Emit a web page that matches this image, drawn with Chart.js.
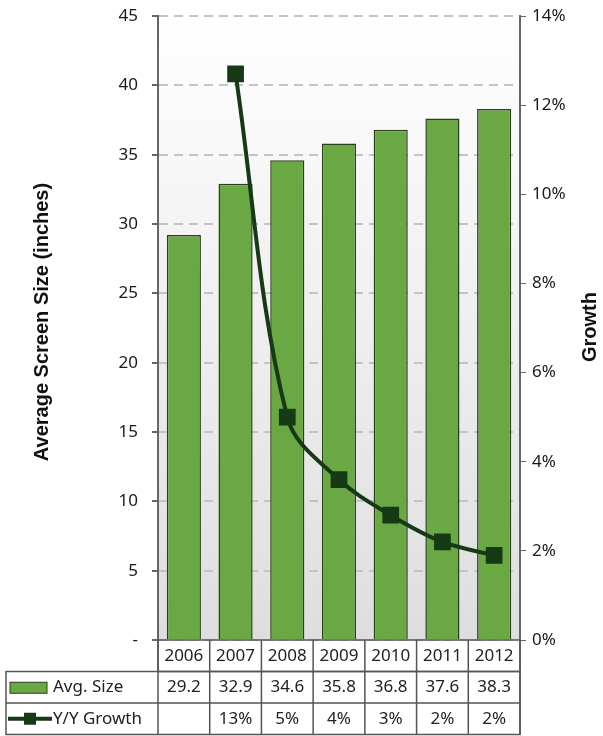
<!DOCTYPE html>
<html>
<head>
<meta charset="utf-8">
<script src="https://cdn.jsdelivr.net/npm/chart.js@4.4.0/dist/chart.umd.min.js"></script>
<style>
  body { margin: 0; background: #fff; }
  canvas { display: block; }
</style>
</head>
<body>
<canvas id="chart" width="603" height="736"></canvas>
<script>
const years = ['2006', '2007', '2008', '2009', '2010', '2011', '2012'];
const avgSize = [29.2, 32.9, 34.6, 35.8, 36.8, 37.6, 38.3];
const growth = [null, 12.7, 5.0, 3.6, 2.8, 2.2, 1.9];
const leftTicks = [0, 5, 10, 15, 20, 25, 30, 35, 40, 45];
const rightTicks = [0, 2, 4, 6, 8, 10, 12, 14];

const barGreen = '#6aa843';
const barEdge = '#2a3f1e';
const lineGreen = '#163a16';
const tickFont = { family: 'Noto Sans', size: 17 };

// plot background, gray gradient
const backdrop = {
    id: 'backdrop',
    beforeDraw(chart) {
        const { ctx, chartArea: a } = chart;
        const g = ctx.createLinearGradient(0, a.top, 0, a.bottom);
        g.addColorStop(0, '#ffffff');
        g.addColorStop(1, '#dedede');
        ctx.save();
        ctx.fillStyle = g;
        ctx.fillRect(a.left, a.top, a.right - a.left, a.bottom - a.top);
        ctx.restore();
    }
};

// axis titles + data table under the plot
const extras = {
    id: 'extras',
    afterDraw(chart) {
        const { ctx, chartArea: a } = chart;
        const x = chart.scales.x;
        ctx.save();

        ctx.fillStyle = '#111';
        ctx.font = 'bold 20px "Liberation Sans"';
        ctx.textAlign = 'center';
        ctx.textBaseline = 'middle';
        ctx.translate(42, 322);
        ctx.rotate(-Math.PI / 2);
        ctx.fillText('Average Screen Size (inches)', 0, 0);
        ctx.setTransform(1, 0, 0, 1, 0, 0);
        ctx.translate(590, 327);
        ctx.rotate(-Math.PI / 2);
        ctx.fillText('Growth', 0, 0);
        ctx.setTransform(1, 0, 0, 1, 0, 0);

        const colW = (a.right - a.left) / years.length;
        const rowH = 31.5;
        const top = a.bottom;
        const tableLeft = 6;

        ctx.strokeStyle = '#555';
        ctx.lineWidth = 1.5;
        // year row
        ctx.strokeRect(a.left, top, a.right - a.left, rowH);
        // series rows
        ctx.strokeRect(tableLeft, top + rowH, a.right - tableLeft, rowH * 2);
        ctx.beginPath();
        ctx.moveTo(tableLeft, top + rowH * 2);
        ctx.lineTo(a.right, top + rowH * 2);
        for (let i = 0; i <= years.length; i++) {
            const cx = a.left + i * colW;
            ctx.moveTo(cx, top);
            ctx.lineTo(cx, top + rowH * 3);
        }
        ctx.stroke();

        ctx.font = '17px "Noto Sans"';
        ctx.fillStyle = '#222';
        ctx.textAlign = 'center';
        years.forEach((y, i) => {
            const cx = x.getPixelForValue(i);
            ctx.fillText(y, cx, top + rowH * 0.5);
            ctx.fillText(avgSize[i].toFixed(1), cx, top + rowH * 1.5);
            if (growth[i] !== null) {
                ctx.fillText(Math.round(growth[i]) + '%', cx, top + rowH * 2.5);
            }
        });

        // legend keys
        const ds = chart.data.datasets;
        ctx.textAlign = 'left';
        ctx.fillStyle = barGreen;
        ctx.strokeStyle = barEdge;
        ctx.lineWidth = 1;
        ctx.fillRect(10, top + rowH * 1.5 - 5, 37, 11);
        ctx.strokeRect(10, top + rowH * 1.5 - 5, 37, 11);
        ctx.fillStyle = '#222';
        ctx.fillText(ds[0].label, 53, top + rowH * 1.5);

        ctx.strokeStyle = lineGreen;
        ctx.lineWidth = 4;
        ctx.beginPath();
        ctx.moveTo(8, top + rowH * 2.5);
        ctx.lineTo(52, top + rowH * 2.5);
        ctx.stroke();
        ctx.fillStyle = lineGreen;
        ctx.fillRect(24, top + rowH * 2.5 - 6, 12, 12);
        ctx.fillStyle = '#222';
        ctx.fillText(ds[1].label, 53, top + rowH * 2.5);

        ctx.restore();
    }
};

new Chart(document.getElementById('chart'), {
    data: {
        labels: years,
        datasets: [
            {
                type: 'bar',
                label: 'Avg. Size',
                data: avgSize,
                yAxisID: 'y',
                backgroundColor: barGreen,
                borderColor: barEdge,
                borderWidth: 1.5,
                categoryPercentage: 1,
                barPercentage: 0.66,
                order: 2
            },
            {
                type: 'line',
                label: 'Y/Y Growth',
                data: growth,
                yAxisID: 'y2',
                borderColor: lineGreen,
                backgroundColor: lineGreen,
                borderWidth: 4,
                tension: 0.35,
                pointStyle: 'rect',
                pointRadius: 9,
                pointHoverRadius: 9,
                order: 1
            }
        ]
    },
    options: {
        responsive: false,
        animation: false,
        layout: { padding: { top: 16, bottom: 96, left: 0, right: 0 } },
        plugins: {
            legend: { display: false },
            tooltip: { enabled: false }
        },
        scales: {
            x: {
                display: false,
                offset: true
            },
            y: {
                position: 'left',
                min: 0,
                max: 45,
                afterBuildTicks(scale) {
                    scale.ticks = leftTicks.map(v => ({ value: v }));
                },
                afterFit(scale) {
                    scale.width = 158;
                    scale.paddingTop = 0;
                    scale.paddingBottom = 0;
                },
                ticks: {
                    font: tickFont,
                    color: '#1a1a1a',
                    padding: 14,
                    callback: v => (v === 0 ? '-' : v)
                },
                grid: {
                    color: '#c4c4c4',
                    lineWidth: 2,
                    tickColor: '#666',
                    tickLength: 6,
                    tickBorderDash: [],
                    drawTicks: true
                },
                border: { color: '#666', width: 2, dash: [9, 6] }
            },
            y2: {
                position: 'right',
                min: 0,
                max: 14,
                afterBuildTicks(scale) {
                    scale.ticks = rightTicks.map(v => ({ value: v }));
                },
                afterFit(scale) {
                    scale.width = 83;
                    scale.paddingTop = 0;
                    scale.paddingBottom = 0;
                },
                ticks: {
                    font: tickFont,
                    color: '#1a1a1a',
                    padding: 6,
                    callback: v => v + '%'
                },
                grid: {
                    drawOnChartArea: false,
                    tickColor: '#666',
                    tickLength: 6
                },
                border: { color: '#666', width: 2 }
            }
        }
    },
    plugins: [backdrop, extras]
});
</script>
</body>
</html>
